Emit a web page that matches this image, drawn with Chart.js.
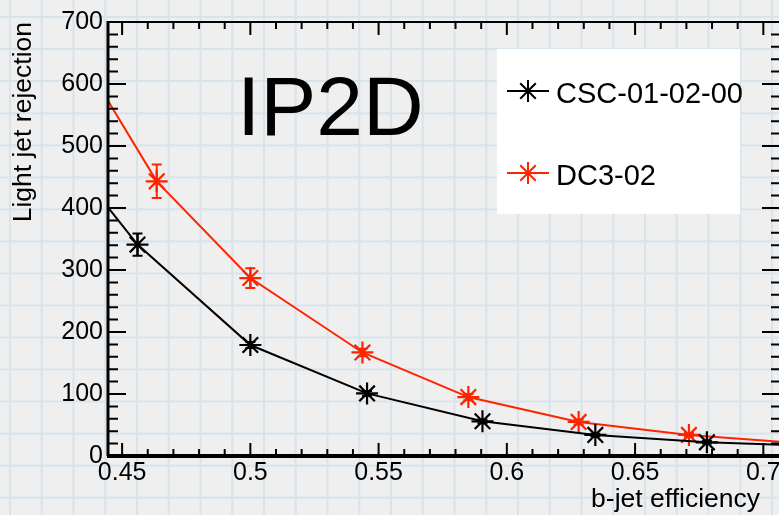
<!DOCTYPE html>
<html>
<head>
<meta charset="utf-8">
<title>IP2D light jet rejection</title>
<script src="https://cdn.jsdelivr.net/npm/chart.js@4.4.1/dist/chart.umd.min.js"></script>
<style>
  html, body { margin: 0; padding: 0; overflow: hidden; background: #efefef; }
  #wrap { width: 800px; height: 515px; }
</style>
</head>
<body>
<div id="wrap"><canvas id="chart" width="800" height="515"></canvas></div>
<script>
// b-jet efficiency vs light jet rejection
// first/last entries are where the curves leave the frame (no marker there)
const cscEff = [0.4445, 0.456, 0.500, 0.5455, 0.5905, 0.6345, 0.678, 0.7065];
const cscRej = [401, 341, 179, 101, 56, 34, 22, 18];
const cscErr = [0, 18, 5, 4, 3, 2, 2, 0];

const dc3Eff = [0.4445, 0.4635, 0.500, 0.5437, 0.585, 0.628, 0.671, 0.7065];
const dc3Rej = [573, 443, 287, 167, 95, 55, 34, 23];
const dc3Err = [0, 27, 16, 6, 5, 4, 3, 0];

const seriesNames = ['CSC-01-02-00', 'DC3-02'];
const seriesColors = ['#000000', '#ff2400'];

const xTickValues = [0.45, 0.5, 0.55, 0.6, 0.65, 0.7];
const xTickLabels = ['0.45', '0.5', '0.55', '0.6', '0.65', '0.7'];
const yTickValues = [0, 100, 200, 300, 400, 500, 600, 700];
const yTickLabels = ['0', '100', '200', '300', '400', '500', '600', '700'];

const xTitle = 'b-jet efficiency';
const yTitle = 'Light jet rejection';
const plotLabel = 'IP2D';

const FONT = '"Liberation Sans", Arial, Helvetica, sans-serif';
Chart.defaults.font.family = FONT;
Chart.defaults.color = '#000';

function markerSizes(n) {
    // no marker on the two edge points
    return Array.from({ length: n }, (_, i) => (i === 0 || i === n - 1) ? 0 : 11);
}

// graph paper background of the slide
const paperPlugin = {
    id: 'paper',
    beforeDraw(chart) {
        const ctx = chart.ctx;
        ctx.save();
        ctx.fillStyle = '#efefef';
        ctx.fillRect(0, 0, chart.width, chart.height);
        ctx.strokeStyle = 'rgba(180, 212, 230, 0.42)';
        ctx.lineWidth = 2;
        ctx.beginPath();
        for (let x = 10; x < chart.width; x += 31.75) {
            ctx.moveTo(x, 0);
            ctx.lineTo(x, chart.height);
        }
        for (let y = 17; y < chart.height; y += 32.05) {
            ctx.moveTo(0, y);
            ctx.lineTo(chart.width, y);
        }
        ctx.stroke();
        ctx.restore();
    }
};

// vertical error bars from the err arrays
const errorBarPlugin = {
    id: 'errorBars',
    afterDatasetsDraw(chart) {
        const ctx = chart.ctx;
        const yScale = chart.scales.y;
        const errs = [cscErr, dc3Err];
        ctx.save();
        ctx.lineWidth = 2;
        chart.data.datasets.forEach((ds, i) => {
            const meta = chart.getDatasetMeta(i);
            ctx.strokeStyle = ds.borderColor;
            meta.data.forEach((pt, j) => {
                const e = errs[i][j];
                if (!e) return;
                const v = ds.data[j].y;
                const top = yScale.getPixelForValue(v + e);
                const bot = yScale.getPixelForValue(v - e);
                ctx.beginPath();
                ctx.moveTo(pt.x, top);
                ctx.lineTo(pt.x, bot);
                ctx.moveTo(pt.x - 5, top);
                ctx.lineTo(pt.x + 5, top);
                ctx.moveTo(pt.x - 5, bot);
                ctx.lineTo(pt.x + 5, bot);
                ctx.stroke();
            });
        });
        ctx.restore();
    }
};

function drawStar(ctx, x, y, r) {
    ctx.beginPath();
    for (let k = 0; k < 4; k++) {
        const a = k * Math.PI / 4;
        ctx.moveTo(x - Math.cos(a) * r, y - Math.sin(a) * r);
        ctx.lineTo(x + Math.cos(a) * r, y + Math.sin(a) * r);
    }
    ctx.stroke();
}

// ROOT style frame: axis lines on all four sides, ticks pointing inward
const framePlugin = {
    id: 'frame',
    afterDraw(chart) {
        const ctx = chart.ctx;
        const a = chart.chartArea;
        const xs = chart.scales.x;
        const ys = chart.scales.y;
        ctx.save();
        ctx.strokeStyle = '#000';

        // ticks
        ctx.lineWidth = 2;
        ctx.beginPath();
        for (let i = 0; i <= 30; i++) {
            const v = 0.44 + i * 0.01;
            if (v < xs.min || v > xs.max) continue;
            const px = xs.getPixelForValue(v);
            const major = i % 5 === 1;
            const len = major ? 13 : 7;
            ctx.moveTo(px, a.bottom);
            ctx.lineTo(px, a.bottom - len);
            ctx.moveTo(px, a.top);
            ctx.lineTo(px, a.top + len);
        }
        for (let v = 0; v <= 700; v += 20) {
            const py = ys.getPixelForValue(v);
            const major = v % 100 === 0;
            ctx.moveTo(a.left, py);
            ctx.lineTo(a.left + (major ? 18 : 10), py);
            ctx.moveTo(a.right, py);
            ctx.lineTo(a.right - (major ? 18 : 9), py);
        }
        ctx.stroke();

        // axis lines
        ctx.lineWidth = 2;
        ctx.beginPath();
        ctx.moveTo(a.left, a.top);
        ctx.lineTo(a.right, a.top);
        ctx.lineTo(a.right, a.bottom);
        ctx.stroke();
        ctx.lineWidth = 3;
        ctx.beginPath();
        ctx.moveTo(a.left, a.top - 1);
        ctx.lineTo(a.left, a.bottom);
        ctx.stroke();
        ctx.lineWidth = 4;
        ctx.beginPath();
        ctx.moveTo(a.left - 1, a.bottom);
        ctx.lineTo(a.right, a.bottom);
        ctx.stroke();

        // x title, right aligned under the axis
        ctx.fillStyle = '#000';
        ctx.font = '26.5px ' + FONT;
        ctx.textAlign = 'right';
        ctx.textBaseline = 'alphabetic';
        ctx.fillText(xTitle, 760, 507);

        // big label
        ctx.textAlign = 'left';
        ctx.font = '84px ' + FONT;
        ctx.fillText(plotLabel, 237, 135);

        // legend box
        ctx.fillStyle = '#ffffff';
        ctx.fillRect(497, 49, 243, 165);
        const rows = [91, 173];
        ctx.font = '29px ' + FONT;
        chart.data.datasets.forEach((ds, i) => {
            const y = rows[i];
            ctx.strokeStyle = ds.borderColor;
            ctx.lineWidth = 2;
            ctx.beginPath();
            ctx.moveTo(507, y);
            ctx.lineTo(549, y);
            ctx.stroke();
            drawStar(ctx, 528, y, 11);
            ctx.fillStyle = '#000';
            ctx.fillText(ds.label, 556, y + 12);
        });
        ctx.restore();
    }
};

function makeSeries(eff, rej, i) {
    return {
        label: seriesNames[i],
        data: eff.map((x, j) => ({ x: x, y: rej[j] })),
        showLine: true,
        borderColor: seriesColors[i],
        backgroundColor: seriesColors[i],
        borderWidth: 2,
        tension: 0,
        pointStyle: 'star',
        pointRadius: markerSizes(eff.length),
        pointHoverRadius: markerSizes(eff.length),
        pointBorderWidth: 2.2,
        pointBorderColor: seriesColors[i],
        pointBackgroundColor: seriesColors[i]
    };
}

const ctx = document.getElementById('chart').getContext('2d');
new Chart(ctx, {
    type: 'scatter',
    data: {
        datasets: [
            makeSeries(cscEff, cscRej, 0),
            makeSeries(dc3Eff, dc3Rej, 1)
        ]
    },
    options: {
        responsive: false,
        animation: false,
        layout: { padding: { top: 22, right: 20, left: 0, bottom: 0 } },
        plugins: {
            legend: { display: false },
            tooltip: { enabled: false }
        },
        scales: {
            x: {
                type: 'linear',
                min: 0.4445,
                max: 0.7065,
                grid: { display: false, drawTicks: false },
                border: { display: false },
                afterBuildTicks: scale => {
                    scale.ticks = xTickValues.map(v => ({ value: v }));
                },
                afterFit: scale => { scale.height = 59; },
                ticks: {
                    autoSkip: false,
                    maxRotation: 0,
                    padding: 2,
                    color: '#000',
                    font: { size: 25 },
                    callback: (v, i) => xTickLabels[i]
                }
            },
            y: {
                type: 'linear',
                min: 0,
                max: 700,
                grid: { display: false, drawTicks: false },
                border: { display: false },
                afterBuildTicks: scale => {
                    scale.ticks = yTickValues.map(v => ({ value: v }));
                },
                afterFit: scale => { scale.width = 108; },
                ticks: {
                    padding: 5,
                    color: '#000',
                    font: { size: 25 },
                    callback: (v, i) => yTickLabels[i]
                },
                title: {
                    display: true,
                    text: yTitle,
                    align: 'end',
                    color: '#000',
                    font: { size: 26.5 },
                    padding: { top: 8, bottom: 0 }
                }
            }
        }
    },
    plugins: [paperPlugin, errorBarPlugin, framePlugin]
});
</script>
</body>
</html>
